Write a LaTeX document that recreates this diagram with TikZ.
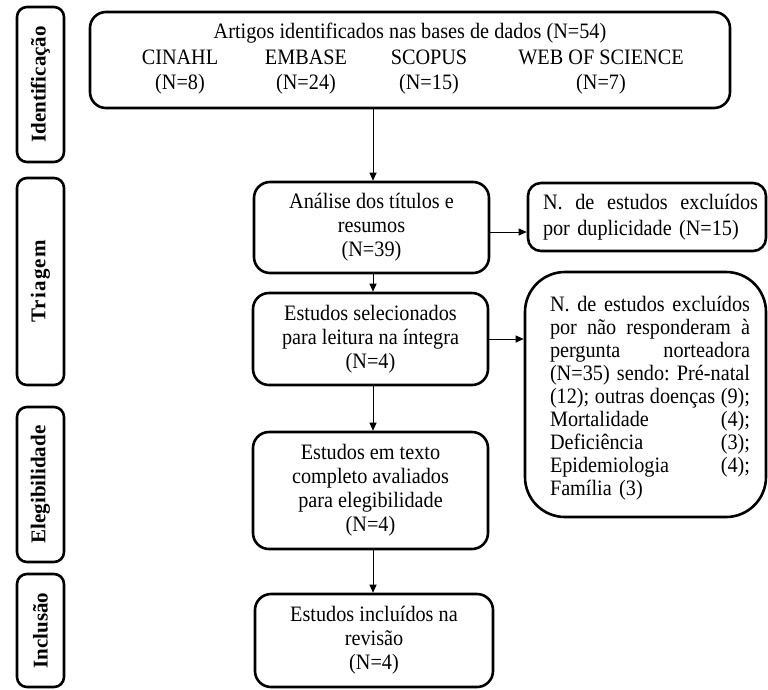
\documentclass[tikz,border=0pt]{standalone}
\usepackage{fontspec}
\setmainfont{Liberation Serif}[FakeStretch=0.92]
\newfontfamily\stagefont{Liberation Serif}
\usetikzlibrary{arrows.meta,calc}

\tikzset{
  boxfont/.style={font=\fontsize{22}{24}\selectfont},
  flowbox/.style={draw, line width=2.6pt, rounded corners=16pt, align=center,
    inner sep=0pt, boxfont},
  notetext/.style={inner sep=0pt, align=left},
  stagebox/.style={draw, line width=2.6pt, rounded corners=10pt, rotate=90,
    minimum height=47pt, inner sep=0pt,
    font=\stagefont\bfseries\fontsize{21}{24}\selectfont},
  plain/.style={inner sep=0pt, align=center, font=\fontsize{22}{25}\selectfont},
  link/.style={line width=1pt, -{Triangle[length=8pt,width=7pt]}},
}

\begin{document}
\begin{tikzpicture}[x=1pt,y=-1pt]
\useasboundingbox (0,0) rectangle (768,689);
\fill[white] (0,0) rectangle (768,689);

% stage labels on the left
\node[stagebox, minimum width=155pt] (sIdent) at (40.5,84.5) {Identificação};
\node[stagebox, minimum width=207pt] (sTri) at (40.5,281.5)
  {\addfontfeature{LetterSpace=6}Triagem};
\node[stagebox, minimum width=155pt] (sEleg) at (40.5,484.5) {Elegibilidade};
\node[stagebox, minimum width=113pt] (sIncl) at (40.5,630.5) {Inclusão};

% identification box with the four databases
\node[flowbox, minimum width=640pt, minimum height=96pt] (main) at (410,60) {};
\node[plain] (total) at (410,33) {Artigos identificados nas bases de dados (N=54)};
\node[plain] (cinahl) at (180,72.5) {CINAHL\\(N=8)};
\node[plain] (embase) at (306,72.5) {EMBASE\\(N=24)};
\node[plain] (scopus) at (429,72.5) {SCOPUS\\(N=15)};
\node[plain] (wos) at (601,72.5) {WEB OF SCIENCE\\(N=7)};

% screening, eligibility and inclusion steps
\node[flowbox, minimum width=235pt, minimum height=91pt] (analise) at (371.5,227.5)
  {Análise dos títulos e\\resumos\\(N=39)};
\node[flowbox, minimum width=235pt, minimum height=92pt] (sel) at (370.5,339)
  {Estudos selecionados\\para leitura na íntegra\\(N=4)};
\node[flowbox, minimum width=235pt, minimum height=117pt] (texto) at (370.5,490.5)
  {Estudos em texto\\completo avaliados\\para elegibilidade\\(N=4)};
\node[flowbox, minimum width=238pt, minimum height=93pt] (incl) at (374,640.5)
  {Estudos incluídos na\\revisão\\(N=4)};

% exclusion boxes, with their justified notes
\node[flowbox, rounded corners=13pt, minimum width=238pt, minimum height=68pt]
  (dup) at (647,217) {};
\node[notetext, text width=215pt, font=\fontsize{22}{26}\selectfont] (dupText)
  at (650.5,217)
  {N.\hfill de\hfill estudos\hfill excluídos\\por duplicidade (N=15)};
\node[flowbox, rounded corners=40pt, minimum width=241pt, minimum height=245pt]
  (naoresp) at (645.5,394.5) {};
\node[notetext, text width=200pt, font=\fontsize{22}{23}\selectfont] (naorespText)
  at (650,398)
  {N.\hfill de\hfill estudos\hfill excluídos\\
   por\hfill não\hfill responderam\hfill à\\
   pergunta\hfill norteadora\\
   (N=35)\hfill sendo:\hfill Pré-natal\\
   (12);\hfill outras\hfill doenças\hfill (9);\\
   Mortalidade\hfill (4);\\
   Deficiência\hfill (3);\\
   Epidemiologia\hfill (4);\\
   Família (3)};

% connectors
\coordinate (spine) at (373,0);
\draw[link] (main.south -| spine) -- (analise.north -| spine);
\draw[link] (analise.south -| spine) -- (sel.north -| spine);
\draw[link] (sel.south -| spine) -- (texto.north -| spine);
\draw[link] (texto.south -| spine) -- (incl.north -| spine);
\coordinate (dupfrom) at ([yshift=-4.5pt]analise.east);
\draw[link] (dupfrom) -- (dupfrom -| dup.west);
\draw[link] (sel.east) -- (sel.east -| naoresp.west);
\end{tikzpicture}
\end{document}
